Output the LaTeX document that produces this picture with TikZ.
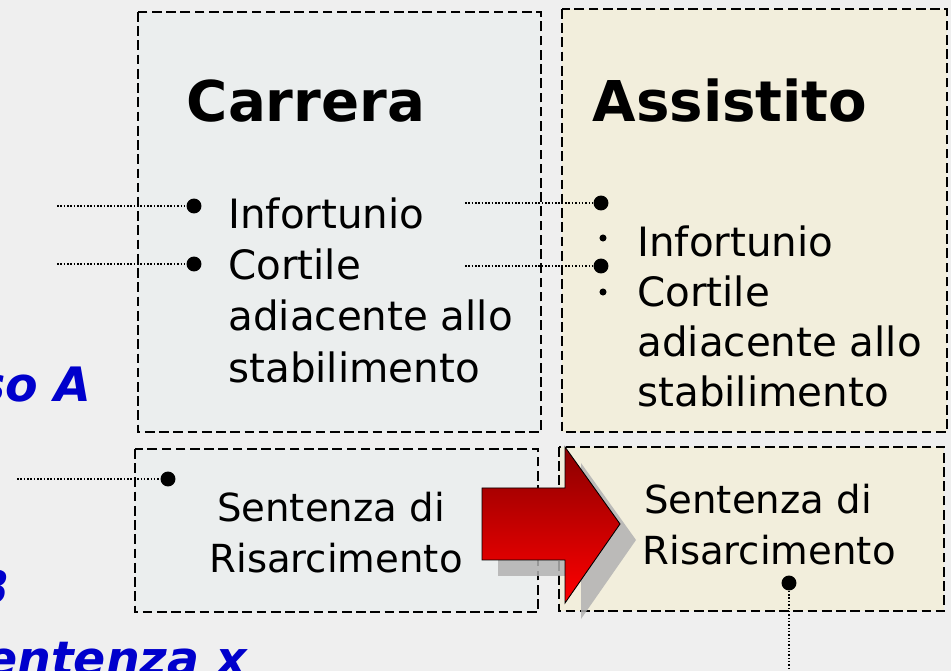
\documentclass[tikz,border=0pt]{standalone}
\usepackage{fontspec}
\setmainfont{DejaVu Sans}
\definecolor{bgcol}{HTML}{EFEFEF}
\definecolor{carrfill}{HTML}{EBEEEE}
\definecolor{assifill}{HTML}{F2EEDC}
\definecolor{blutxt}{HTML}{0000CC}
\definecolor{arrowdark}{HTML}{8A0000}
\definecolor{arrowlight}{HTML}{FF0000}

\begin{document}
\begin{tikzpicture}[x=0.02cm, y=-0.02cm,
    box/.style={draw=black, line width=0.8pt, dash pattern=on 5.5pt off 2.6pt},
    title/.style={font=\fontsize{32}{38}\selectfont\bfseries, inner sep=0pt, anchor=base},
    item/.style={font=\fontsize{23}{28}\selectfont, inner sep=0pt, anchor=base west},
    verdict/.style={font=\fontsize{22}{27}\selectfont, inner sep=0pt, anchor=base},
    case/.style={font=\fontsize{27}{32}\selectfont\bfseries\itshape, text=blutxt, inner sep=0pt},
    dot/.style={circle, fill=black, inner sep=0pt, minimum size=8.5pt},
    link/.style={densely dotted, line width=0.9pt}]
                    % background
                    \path[use as bounding box, fill=bgcol] (0,0) rectangle (951,671);
                    % boxes
                    \draw[box, fill=carrfill] (138,12) rectangle (541,432);
                    \draw[box, fill=assifill] (562,9) rectangle (947,432);
                    \draw[box, fill=carrfill] (135,449) rectangle (538,612);
                    \draw[box, fill=assifill] (559,447) rectangle (944,611);
                    % titles
                    \node[title] (carrera) at (306,122) {Carrera};
                    \node[title] (assistito) at (730,122) {Assistito};
                    % lists
                    \foreach \txt [count=\i] in {Infortunio, Cortile, adiacente allo, stabilimento} {
                        \node[item] (carr\i) at (228,177+51.3*\i) {\txt};
                        \node[item] (assi\i) at (637,207+50*\i) {\txt};
                    }
                    \foreach \y in {238,292}
                        \fill (603,\y) circle[radius=2pt];
                    % sentences
                    \node[verdict] (sent1) at (331,522) {Sentenza di};
                    \node[verdict] (sent2) at (336,573) {Risarcimento};
                    \node[verdict] (sent3) at (758,514) {Sentenza di};
                    \node[verdict] (sent4) at (769,565) {Risarcimento};
                    % arrow
                    \fill[black!30, opacity=0.85, shift={(16,16)}] (482,488) -- (565,488) -- (565,447) -- (620,524) -- (565,603) -- (565,560) -- (482,560) -- cycle;
                    \shadedraw[top color=arrowdark, bottom color=arrowlight, draw=black, line width=0.5pt] (482,488) -- (565,488) -- (565,447) -- (620,524) -- (565,603) -- (565,560) -- (482,560) -- cycle;
                    % cases
                    \node[case, anchor=base east] (casoA) at (92,402) {so A};
                    \node[case, anchor=base east] (casoB) at (10,605) {B};
                    \node[case, anchor=base east] (sentx) at (247,676) {entenza x};
                    % connectors
                    \node[dot] (c1) at (194,206) {};
                    \node[dot] (c2) at (194,264) {};
                    \node[dot] (a1) at (601,203) {};
                    \node[dot] (a2) at (601,266) {};
                    \node[dot] (s1) at (168,479) {};
                    \node[dot] (s2) at (789,583) {};
                    \coordinate (c1in) at (57,206);
                    \coordinate (c2in) at (57,264);
                    \coordinate (a1in) at (465,203);
                    \coordinate (a2in) at (465,266);
                    \coordinate (s1in) at (17,479);
                    \coordinate (s2out) at (789,671);
                    \draw[link] (c1in) -- (c1);
                    \draw[link] (c2in) -- (c2);
                    \draw[link] (a1in) -- (a1);
                    \draw[link] (a2in) -- (a2);
                    \draw[link] (s1in) -- (s1);
                    \draw[link] (s2) -- (s2out);
                \end{tikzpicture}
\end{document}
